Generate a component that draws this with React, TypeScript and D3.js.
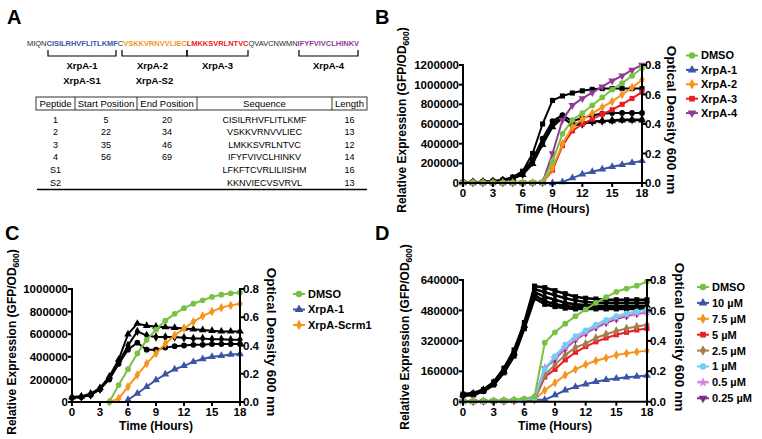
import React from "react";
import * as d3 from "d3";

// ---- shared axis values ----
const hours = [0, 1, 2, 3, 4, 5, 6, 7, 8, 9, 10, 11, 12, 13, 14, 15, 16, 17, 18];
const timeTicks = [0, 3, 6, 9, 12, 15, 18];
const odTicks = [0, 0.2, 0.4, 0.6, 0.8];
const bGfpTicks = [0, 200000, 400000, 600000, 800000, 1000000, 1200000];
const cGfpTicks = [0, 200000, 400000, 600000, 800000, 1000000];
const dGfpTicks = [0, 160000, 320000, 480000, 640000];

// ---- panel A ----
const seqText = ["MIQN", "CISILRHVFLITLKMF", "C", "VSKKVRNVVLIEC", "LMKKSVRLNTVC", "QVAVCNWMN", "IFYFVIVCLHINKV"];
const seqColor = ["#231f20", "#3b54a5", "#231f20", "#f7941e", "#ec1c24", "#231f20", "#8f3b96"];
const bracketLabels = ["XrpA-1", "XrpA-2", "XrpA-3", "XrpA-4"];
const bracketSubLabels = ["XrpA-S1", "XrpA-S2", "", ""];
const tableHeader = ["Peptide", "Start Position", "End Position", "Sequence", "Length"];
const tablePeptide = ["1", "2", "3", "4", "S1", "S2"];
const tableStart = ["5", "22", "35", "56", "", ""];
const tableEnd = ["20", "34", "46", "69", "", ""];
const tableSeq = ["CISILRHVFLITLKMF", "VSKKVRNVVLIEC", "LMKKSVRLNTVC", "IFYFVIVCLHINKV", "LFKFTCVRLILIISHM", "KKNVIECVSVRVL"];
const tableLength = [16, 13, 12, 14, 16, 13];

// ---- panel B (GFP/OD600 and OD600) ----
const bDMSO = [4000, 4000, 4000, 4000, 4000, 4000, 4000, 4000, 8000, 220000, 500000, 640000, 710000, 790000, 870000, 950000, 1015000, 1090000, 1170000];
const bXrpA1 = [0, 0, 0, 0, 0, 0, 0, 0, 0, 0, 10000, 50000, 90000, 115000, 140000, 165000, 185000, 205000, 225000];
const bXrpA2 = [3000, 3000, 3000, 3000, 3000, 3000, 3000, 3000, 6000, 150000, 400000, 570000, 650000, 710000, 770000, 830000, 900000, 970000, 1050000];
const bXrpA3 = [3000, 3000, 3000, 3000, 3000, 3000, 3000, 3000, 6000, 130000, 380000, 530000, 600000, 650000, 700000, 745000, 800000, 860000, 925000];
const bXrpA4 = [3000, 3000, 3000, 3000, 3000, 3000, 3000, 3000, 6000, 300000, 640000, 790000, 860000, 920000, 980000, 1040000, 1090000, 1150000, 1200000];
const bOD1 = [0.005, 0.006, 0.008, 0.012, 0.02, 0.04, 0.08, 0.2, 0.4, 0.56, 0.59, 0.61, 0.625, 0.635, 0.64, 0.64, 0.64, 0.64, 0.64];
const bOD2 = [0.005, 0.006, 0.008, 0.012, 0.02, 0.035, 0.07, 0.16, 0.3, 0.42, 0.46, 0.42, 0.44, 0.46, 0.47, 0.475, 0.475, 0.475, 0.475];
const bOD3 = [0.005, 0.006, 0.008, 0.012, 0.018, 0.03, 0.06, 0.14, 0.27, 0.4, 0.45, 0.39, 0.4, 0.415, 0.42, 0.425, 0.43, 0.43, 0.43];
const bOD4 = [0.005, 0.006, 0.008, 0.011, 0.017, 0.03, 0.055, 0.13, 0.26, 0.38, 0.44, 0.4, 0.41, 0.415, 0.42, 0.42, 0.425, 0.425, 0.425];

// ---- panel C ----
const cDMSO = [null, null, null, null, 0, 150000, 290000, 430000, 550000, 640000, 720000, 780000, 830000, 870000, 900000, 930000, 950000, 962000, 970000];
const cXrpA1 = [null, null, null, null, null, null, 20000, 75000, 135000, 195000, 245000, 290000, 320000, 355000, 380000, 400000, 410000, 420000, 425000];
const cScrm1 = [null, null, null, null, 0, 30000, 136000, 240000, 340000, 430000, 515000, 590000, 650000, 710000, 760000, 800000, 835000, 855000, 870000];
const cOD1 = [0.035, 0.04, 0.06, 0.1, 0.18, 0.3, 0.48, 0.555, 0.54, 0.535, 0.53, 0.525, 0.52, 0.515, 0.51, 0.505, 0.5, 0.5, 0.5];
const cOD2 = [0.03, 0.035, 0.05, 0.09, 0.17, 0.28, 0.4, 0.5, 0.47, 0.46, 0.46, 0.46, 0.455, 0.45, 0.45, 0.445, 0.445, 0.44, 0.44];
const cOD3 = [0.03, 0.035, 0.05, 0.09, 0.16, 0.27, 0.37, 0.42, 0.37, 0.37, 0.385, 0.395, 0.4, 0.405, 0.405, 0.41, 0.41, 0.41, 0.41];

// ---- panel D ----
const dDMSO = [4000, 4000, 5000, 6000, 8000, 11000, 16000, 28000, 310000, 365000, 410000, 450000, 485000, 520000, 550000, 578000, 595000, 610000, 632000];
const d10 = [2000, 2000, 2000, 3000, 4000, 5000, 7000, 10000, 10000, 35000, 60000, 78000, 92000, 105000, 115000, 122000, 128000, 133000, 138000];
const d75 = [2000, 2000, 2000, 3000, 4000, 5000, 7000, 10000, 60000, 100000, 140000, 170000, 195000, 215000, 230000, 245000, 255000, 262000, 268000];
const d5 = [2000, 2000, 3000, 3000, 4000, 6000, 8000, 10000, 130000, 170000, 220000, 260000, 290000, 315000, 335000, 352000, 365000, 377000, 385000];
const d25 = [2000, 2000, 3000, 3000, 4000, 6000, 8000, 12000, 140000, 195000, 245000, 285000, 305000, 335000, 355000, 372000, 385000, 395000, 405000];
const d1 = [2000, 2000, 3000, 4000, 5000, 7000, 10000, 20000, 170000, 240000, 300000, 345000, 375000, 405000, 430000, 450000, 465000, 475000, 485000];
const d05 = [2000, 2000, 3000, 4000, 5000, 7000, 10000, 20000, 180000, 230000, 285000, 330000, 365000, 395000, 420000, 440000, 455000, 465000, 470000];
const d025 = [2000, 2000, 3000, 4000, 5000, 7000, 10000, 18000, 175000, 225000, 280000, 325000, 360000, 390000, 415000, 435000, 450000, 462000, 468000];
const dOD1 = [0.05, 0.055, 0.08, 0.13, 0.22, 0.34, 0.52, 0.76, 0.75, 0.73, 0.71, 0.69, 0.68, 0.675, 0.67, 0.67, 0.67, 0.67, 0.67];
const dOD2 = [0.048, 0.053, 0.077, 0.125, 0.21, 0.33, 0.51, 0.74, 0.72, 0.7, 0.68, 0.665, 0.655, 0.65, 0.65, 0.65, 0.65, 0.65, 0.65];
const dOD3 = [0.045, 0.05, 0.075, 0.12, 0.2, 0.32, 0.5, 0.72, 0.69, 0.67, 0.65, 0.64, 0.635, 0.63, 0.63, 0.63, 0.63, 0.63, 0.63];
const dOD4 = [0.043, 0.048, 0.07, 0.115, 0.195, 0.31, 0.49, 0.7, 0.66, 0.64, 0.63, 0.62, 0.62, 0.62, 0.615, 0.615, 0.615, 0.615, 0.615];
const dOD5 = [0.04, 0.045, 0.068, 0.11, 0.19, 0.3, 0.48, 0.68, 0.64, 0.625, 0.615, 0.61, 0.61, 0.61, 0.61, 0.61, 0.61, 0.61, 0.61];

const GREEN = "#78c144";
const BLUE = "#3b54a5";
const ORANGE = "#f7941e";
const RED = "#ec1c24";
const PURPLE = "#8f3b96";
const BROWN = "#a67c52";
const CYAN = "#6fd0f0";
const PINK = "#d582d8";
const DPURPLE = "#7a2b84";
const BLACK = "#000";

const FONT = "'Liberation Sans', Arial, Helvetica, sans-serif";

type Ser = {
  values: (number | null)[];
  color: string;
  shape: d3.SymbolType;
  rot?: number;
  od?: boolean;
  w?: number;
};
type Leg = { label: string; color: string; shape: d3.SymbolType; rot?: number };

const sym = (shape: d3.SymbolType, size = 26) => d3.symbol(shape, size)() || "";

function Panel(p: {
  letter: string;
  lx: number;
  ly: number;
  x0: number;
  x1: number;
  y0: number;
  y1: number;
  gfpMax: number;
  gfpTicks: number[];
  series: Ser[];
  legend: Leg[];
  legX: number;
  legY: number;
  legStep: number;
  leftTitle: [number, number];
  rightTitle: [number, number];
  timeY: number;
}) {
  const x = d3.scaleLinear().domain([0, 18]).range([p.x0, p.x1]);
  const yL = d3.scaleLinear().domain([0, p.gfpMax]).range([p.y0, p.y1]);
  const yR = d3.scaleLinear().domain([0, 0.8]).range([p.y0, p.y1]);
  const fmtR = d3.format(".1f");

  return (
    <g fontFamily={FONT} fontWeight="bold">
      <text x={p.lx} y={p.ly} fontSize={20}>{p.letter}</text>

      {p.series.map((s, i) => {
        const ys = s.od ? yR : yL;
        const pts = hours.map((h, k) => [h, s.values[k]] as [number, number | null]);
        const line = d3
          .line<[number, number | null]>()
          .defined((d) => d[1] != null)
          .x((d) => x(d[0]))
          .y((d) => ys(d[1] as number));
        return (
          <g key={i}>
            <path d={line(pts) || ""} fill="none" stroke={s.color} strokeWidth={s.w ?? 2} />
            {pts
              .filter((d) => d[1] != null)
              .map((d, k) => (
                <path
                  key={k}
                  d={sym(s.shape)}
                  fill={s.color}
                  transform={`translate(${x(d[0])},${ys(d[1] as number)}) rotate(${s.rot ?? 0})`}
                />
              ))}
          </g>
        );
      })}

      {/* axes */}
      <g stroke="#000" strokeWidth={2} fill="none">
        <line x1={p.x0} x2={p.x0} y1={p.y1 - 1} y2={p.y0 + 1} />
        <line x1={p.x1} x2={p.x1} y1={p.y1 - 1} y2={p.y0 + 1} />
        <line x1={p.x0 - 1} x2={p.x1 + 1} y1={p.y0} y2={p.y0} />
        {timeTicks.map((t) => (
          <line key={"xt" + t} x1={x(t)} x2={x(t)} y1={p.y0} y2={p.y0 + 4} />
        ))}
        {p.gfpTicks.map((t) => (
          <line key={"yl" + t} x1={p.x0 - 4} x2={p.x0} y1={yL(t)} y2={yL(t)} />
        ))}
        {odTicks.map((t) => (
          <line key={"yr" + t} x1={p.x1} x2={p.x1 + 4} y1={yR(t)} y2={yR(t)} />
        ))}
      </g>
      <g fontSize={11.5}>
        {timeTicks.map((t) => (
          <text key={"xl" + t} x={x(t)} y={p.y0 + 14} textAnchor="middle">{t}</text>
        ))}
        {p.gfpTicks.map((t) => (
          <text key={"yll" + t} x={p.x0 - 4} y={yL(t)} dy="0.36em" textAnchor="end">{t}</text>
        ))}
        {odTicks.map((t) => (
          <text key={"yrl" + t} x={p.x1 + 3} y={yR(t)} dy="0.36em">{fmtR(t)}</text>
        ))}
      </g>
      <text x={(p.x0 + p.x1) / 2} y={p.timeY} textAnchor="middle" fontSize={12}>Time (Hours)</text>
      <text
        transform={`translate(${p.leftTitle[0]},${p.leftTitle[1]}) rotate(-90)`}
        textAnchor="middle"
        fontSize={12}
      >
        Relative Expression (GFP/OD
        <tspan fontSize={8.5} dy={3}>600</tspan>
        <tspan dy={-3}>)</tspan>
      </text>
      <text
        transform={`translate(${p.rightTitle[0]},${p.rightTitle[1]}) rotate(90)`}
        textAnchor="middle"
        fontSize={13.5}
      >
        Optical Density 600 nm
      </text>

      {/* legend */}
      {p.legend.map((l, i) => {
        const yy = p.legY + i * p.legStep;
        return (
          <g key={l.label}>
            <line x1={p.legX - 6} x2={p.legX + 6} y1={yy} y2={yy} stroke={l.color} strokeWidth={2} />
            <path d={sym(l.shape, 32)} fill={l.color} transform={`translate(${p.legX},${yy}) rotate(${l.rot ?? 0})`} />
            <text x={p.legX + 9} y={yy} dy="0.36em" fontSize={11}>{l.label}</text>
          </g>
        );
      })}
    </g>
  );
}

function PanelA() {
  const brackets: [number, number][] = [
    [48, 116],
    [122, 187],
    [187, 248],
    [299, 358],
  ];
  const cols = [36, 75, 137, 197, 332, 367];
  const mid = (i: number) => (cols[i] + cols[i + 1]) / 2;
  const rowY = [123, 135.3, 147.8, 160.2, 173, 185.5];
  const cells = [tablePeptide, tableStart, tableEnd, tableSeq, tableLength.map(String)];
  return (
    <g fontFamily={FONT}>
      <text x={7} y={24} fontSize={20} fontWeight="bold">A</text>
      <text x={27} y={46} fontSize={7.5} textLength={332} lengthAdjust="spacingAndGlyphs">
        {seqText.map((s, i) => (
          <tspan key={i} fill={seqColor[i]} fontWeight={seqColor[i] === "#231f20" ? "normal" : "bold"}>
            {s}
          </tspan>
        ))}
      </text>
      <g stroke="#000" strokeWidth={1.2} fill="none">
        {brackets.map(([a, b], i) => (
          <path key={i} d={`M${a},50V56H${b}V50`} />
        ))}
      </g>
      <g fontSize={9.5} fontWeight="bold" textAnchor="middle">
        {brackets.map(([a, b], i) => (
          <text key={i} x={(a + b) / 2 + (i === 1 ? -2 : 0)} y={68.5}>
            {bracketLabels[i]}
          </text>
        ))}
        {brackets.map(([a, b], i) =>
          bracketSubLabels[i] ? (
            <text key={"s" + i} x={(a + b) / 2} y={83.5}>
              {bracketSubLabels[i]}
            </text>
          ) : null
        )}
      </g>
      <g stroke="#000" strokeWidth={0.8} fill="none">
        <rect x={cols[0]} y={97} width={cols[5] - cols[0]} height={13} />
        {cols.slice(1, 5).map((c) => (
          <line key={c} x1={c} x2={c} y1={97} y2={110} />
        ))}
      </g>
      <g fontSize={9.5} textAnchor="middle">
        {tableHeader.map((h, i) => (
          <text key={h} x={mid(i)} y={107}>{h}</text>
        ))}
      </g>
      <g fontSize={9} textAnchor="middle">
        {cells.map((col, ci) =>
          col.map((v, ri) => (
            <text key={ci + "-" + ri} x={mid(ci)} y={rowY[ri]}>{v}</text>
          ))
        )}
      </g>
      <line x1={37} x2={367} y1={189.5} y2={189.5} stroke="#000" strokeWidth={1.5} />
    </g>
  );
}

const tri = d3.symbolTriangle;
const cir = d3.symbolCircle;
const dia = d3.symbolDiamond;
const sq = d3.symbolSquare;
const star = d3.symbolStar;

export default function App() {
  return (
    <svg
      width={762}
      height={439}
      viewBox="0 0 762 439"
      style={{ position: "absolute", left: 0, top: 0, background: "#fff" }}
    >
      <rect width={762} height={439} fill="#fff" />
      <PanelA />
      <Panel
        letter="B"
        lx={375}
        ly={24}
        x0={463}
        x1={642}
        y0={183}
        y1={65}
        gfpMax={1200000}
        gfpTicks={bGfpTicks}
        series={[
          { values: bOD1, color: BLACK, shape: sq, od: true },
          { values: bOD2, color: BLACK, shape: cir, od: true },
          { values: bOD3, color: BLACK, shape: dia, od: true },
          { values: bOD4, color: BLACK, shape: tri, od: true },
          { values: bXrpA1, color: BLUE, shape: tri },
          { values: bXrpA3, color: RED, shape: sq },
          { values: bXrpA2, color: ORANGE, shape: dia },
          { values: bXrpA4, color: PURPLE, shape: tri, rot: 180 },
          { values: bDMSO, color: GREEN, shape: cir },
        ]}
        legend={[
          { label: "DMSO", color: GREEN, shape: cir },
          { label: "XrpA-1", color: BLUE, shape: tri },
          { label: "XrpA-2", color: ORANGE, shape: dia },
          { label: "XrpA-3", color: RED, shape: sq },
          { label: "XrpA-4", color: PURPLE, shape: tri, rot: 180 },
        ]}
        legX={692}
        legY={55.5}
        legStep={14.4}
        leftTitle={[406, 120]}
        rightTitle={[667, 120]}
        timeY={212.5}
      />
      <Panel
        letter="C"
        lx={5}
        ly={240}
        x0={72}
        x1={240}
        y0={402}
        y1={289}
        gfpMax={1000000}
        gfpTicks={cGfpTicks}
        series={[
          { values: cOD1, color: BLACK, shape: tri, od: true },
          { values: cOD2, color: BLACK, shape: dia, od: true },
          { values: cOD3, color: BLACK, shape: cir, od: true },
          { values: cXrpA1, color: BLUE, shape: tri },
          { values: cScrm1, color: ORANGE, shape: dia },
          { values: cDMSO, color: GREEN, shape: cir },
        ]}
        legend={[
          { label: "DMSO", color: GREEN, shape: cir },
          { label: "XrpA-1", color: BLUE, shape: tri },
          { label: "XrpA-Scrm1", color: ORANGE, shape: dia },
        ]}
        legX={299}
        legY={294}
        legStep={15.5}
        leftTitle={[16, 342]}
        rightTitle={[267, 342]}
        timeY={429.5}
      />
      <Panel
        letter="D"
        lx={375}
        ly={240}
        x0={463}
        x1={647}
        y0={401.7}
        y1={280}
        gfpMax={640000}
        gfpTicks={dGfpTicks}
        series={[
          { values: dOD5, color: BLACK, shape: sq, od: true, w: 2.6 },
          { values: dOD4, color: BLACK, shape: cir, od: true, w: 2.6 },
          { values: dOD3, color: BLACK, shape: tri, od: true, w: 2.6 },
          { values: dOD2, color: BLACK, shape: dia, od: true, w: 2.6 },
          { values: dOD1, color: BLACK, shape: sq, od: true, w: 2.6 },
          { values: d10, color: BLUE, shape: tri },
          { values: d75, color: ORANGE, shape: dia },
          { values: d5, color: RED, shape: sq },
          { values: d25, color: BROWN, shape: dia },
          { values: d025, color: DPURPLE, shape: tri, rot: 180 },
          { values: d05, color: PINK, shape: star },
          { values: d1, color: CYAN, shape: cir },
          { values: dDMSO, color: GREEN, shape: cir },
        ]}
        legend={[
          { label: "DMSO", color: GREEN, shape: cir },
          { label: "10 µM", color: BLUE, shape: tri },
          { label: "7.5 µM", color: ORANGE, shape: dia },
          { label: "5 µM", color: RED, shape: sq },
          { label: "2.5 µM", color: BROWN, shape: dia },
          { label: "1 µM", color: CYAN, shape: cir },
          { label: "0.5 µM", color: PINK, shape: star },
          { label: "0.25 µM", color: DPURPLE, shape: tri, rot: 180 },
        ]}
        legX={703}
        legY={287}
        legStep={15.9}
        leftTitle={[409, 337]}
        rightTitle={[675, 337]}
        timeY={429.5}
      />
    </svg>
  );
}
